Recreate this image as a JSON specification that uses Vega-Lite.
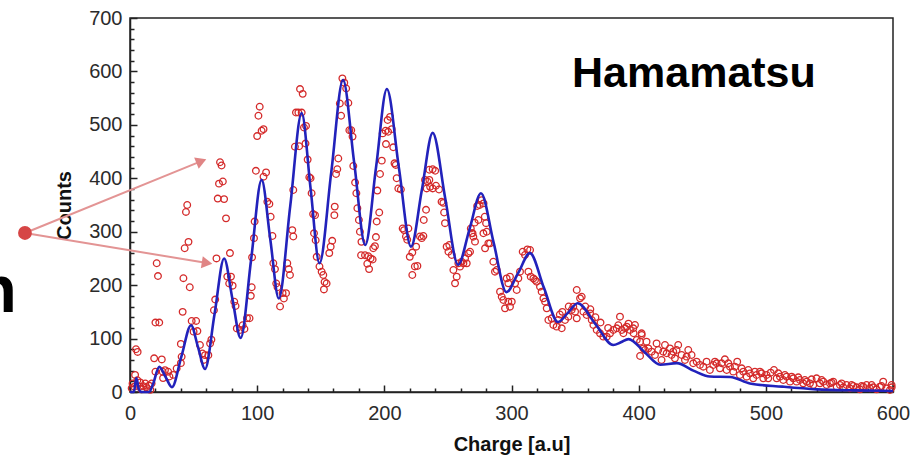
{
"$schema": "https://vega.github.io/schema/vega-lite/v6.json",
"width": 763, "height": 374,
"autosize": {"type": "none"},
"padding": {"left": 130, "top": 18, "right": 30, "bottom": 67},
"background": "white",
"config": {
  "view": {"stroke": "#222", "strokeWidth": 1.5},
  "font": "Liberation Sans",
  "axis": {"domainColor": "#222", "domainWidth": 1.5, "tickColor": "#222", "tickWidth": 1.5, "labelFont": "Liberation Sans", "labelFontSize": 20, "labelColor": "#2b2b2b", "titleFont": "Liberation Sans", "titleFontSize": 20, "titleFontWeight": "bold", "titleColor": "#111", "grid": false, "labelFlush": false, "labelOverlap": false, "labelBound": false}
},
"resolve": {"axis": {"x": "independent", "y": "independent"}},
"datasets": {
  "pts": [
{"charge":1.3,"counts":7},{"charge":3.4,"counts":10},{"charge":4,"counts":32},{"charge":5.8,"counts":22},{"charge":4.7,"counts":80},{"charge":6,"counts":75},{"charge":7.9,"counts":10},{"charge":10.5,"counts":11},{"charge":13,"counts":9},{"charge":15,"counts":12},{"charge":17,"counts":16},{"charge":2,"counts":16},{"charge":9,"counts":5},{"charge":12,"counts":16},{"charge":8,"counts":18},{"charge":16,"counts":4},
{"charge":19,"counts":63},{"charge":25,"counts":61},{"charge":20,"counts":130},{"charge":23,"counts":130},{"charge":21,"counts":241},{"charge":22,"counts":217},{"charge":20,"counts":38},{"charge":25.7,"counts":38},{"charge":27.5,"counts":41},{"charge":30,"counts":38},{"charge":26,"counts":26},{"charge":31,"counts":29},{"charge":34,"counts":32},{"charge":36.7,"counts":44},{"charge":40,"counts":54},{"charge":40.6,"counts":66},{"charge":40,"counts":90},{"charge":41.4,"counts":150},{"charge":42,"counts":213},{"charge":47,"counts":196},{"charge":43,"counts":269},{"charge":46,"counts":281},{"charge":44,"counts":337},{"charge":45,"counts":350},{"charge":48.5,"counts":133},{"charge":52,"counts":133},{"charge":50,"counts":113},{"charge":53,"counts":114},{"charge":55,"counts":88},{"charge":57,"counts":72},{"charge":59,"counts":69},{"charge":58,"counts":60},{"charge":61.6,"counts":69},{"charge":63,"counts":91},{"charge":64,"counts":98},{"charge":66,"counts":153},{"charge":67,"counts":173},{"charge":68,"counts":250},{"charge":70.8,"counts":430},{"charge":72,"counts":424},{"charge":70,"counts":390},{"charge":73,"counts":394},{"charge":69,"counts":362},{"charge":74,"counts":361},{"charge":75.5,"counts":325},{"charge":78.6,"counts":260},{"charge":76.5,"counts":216},{"charge":79.4,"counts":216},{"charge":78,"counts":203},{"charge":80.7,"counts":199},{"charge":82,"counts":169},{"charge":83,"counts":161},{"charge":84,"counts":119},{"charge":86.5,"counts":116},{"charge":88.6,"counts":125},{"charge":90,"counts":118},{"charge":92,"counts":138},{"charge":94,"counts":138},{"charge":95,"counts":180},{"charge":95.7,"counts":196},{"charge":96,"counts":252},{"charge":98,"counts":319},{"charge":97.5,"counts":288},{"charge":99,"counts":414},{"charge":100,"counts":479},{"charge":101,"counts":517},{"charge":102,"counts":534},{"charge":103.5,"counts":489},{"charge":105,"counts":492},{"charge":105,"counts":403},{"charge":107,"counts":411},{"charge":108,"counts":356},{"charge":109.6,"counts":352},{"charge":110.6,"counts":328},{"charge":112,"counts":292},{"charge":112.7,"counts":241},{"charge":114,"counts":230},{"charge":115,"counts":203},{"charge":116,"counts":196},{"charge":118,"counts":160},{"charge":120,"counts":185},{"charge":121,"counts":175},{"charge":122.7,"counts":185},{"charge":123.7,"counts":241},{"charge":124.8,"counts":230},{"charge":125.8,"counts":219},{"charge":127.6,"counts":303},{"charge":128.4,"counts":291},
{"charge":128.4,"counts":378},{"charge":129.7,"counts":459},{"charge":133,"counts":460},{"charge":130.5,"counts":523},{"charge":132.4,"counts":523},{"charge":135,"counts":523},{"charge":133.7,"counts":567},{"charge":135.8,"counts":558},{"charge":136.8,"counts":495},{"charge":138.4,"counts":498},{"charge":138,"counts":465},{"charge":139.7,"counts":435},{"charge":141,"counts":402},{"charge":142,"counts":400},{"charge":142.8,"counts":372},{"charge":144,"counts":333},{"charge":145.5,"counts":331},{"charge":144.7,"counts":297},{"charge":146,"counts":284},{"charge":146.8,"counts":253},{"charge":149,"counts":235},{"charge":150.7,"counts":225},{"charge":152,"counts":219},{"charge":153,"counts":206},{"charge":154.6,"counts":203},{"charge":152.5,"counts":192},{"charge":156.7,"counts":260},{"charge":157.8,"counts":272},{"charge":159,"counts":283},{"charge":160.7,"counts":331},{"charge":161,"counts":347},{"charge":162,"counts":408},{"charge":163,"counts":417},{"charge":163.8,"counts":437},{"charge":165,"counts":540},{"charge":166,"counts":517},{"charge":167,"counts":587},{"charge":168.5,"counts":579},{"charge":170,"counts":568},{"charge":171.7,"counts":541},{"charge":172.5,"counts":490},{"charge":174,"counts":490},{"charge":175,"counts":478},{"charge":175.6,"counts":423},{"charge":177,"counts":392},{"charge":178,"counts":372},{"charge":178.8,"counts":344},{"charge":180,"counts":322},{"charge":180.8,"counts":300},{"charge":182,"counts":281},{"charge":181.7,"counts":256},{"charge":184.8,"counts":256},{"charge":187.4,"counts":254},{"charge":186.6,"counts":240},{"charge":188,"counts":230},{"charge":189.2,"counts":250},{"charge":190.8,"counts":248},{"charge":191.3,"counts":269},{"charge":192.6,"counts":273},{"charge":193.4,"counts":290},{"charge":194,"counts":319},{"charge":196,"counts":336},{"charge":194.5,"counts":377},{"charge":196.6,"counts":408},{"charge":198,"counts":433},{"charge":198.7,"counts":484},{"charge":201,"counts":489},{"charge":203,"counts":487},{"charge":205.8,"counts":492},{"charge":202.6,"counts":509},{"charge":204.5,"counts":515},{"charge":201.3,"counts":464},{"charge":207,"counts":458},{"charge":208,"counts":428},{"charge":209,"counts":425},{"charge":209.7,"counts":400},{"charge":211,"counts":381},{"charge":213,"counts":379},{"charge":214.4,"counts":306},{"charge":215.5,"counts":303},{"charge":217,"counts":291},{"charge":218,"counts":285},{"charge":218.9,"counts":306},{"charge":220,"counts":253},{"charge":222,"counts":261},{"charge":224,"counts":235},{"charge":226,"counts":236},{"charge":222,"counts":219},{"charge":225,"counts":272},{"charge":228,"counts":291},{"charge":229.4,"counts":288},{"charge":230.7,"counts":292},{"charge":231,"counts":322},{"charge":232.8,"counts":341},{"charge":232,"counts":397},{"charge":233.8,"counts":394},{"charge":235.4,"counts":397},{"charge":235.4,"counts":416},{"charge":238,"counts":417},{"charge":240,"counts":414},{"charge":233.3,"counts":381},{"charge":236,"counts":384},{"charge":238,"counts":381},{"charge":240.6,"counts":386},{"charge":243,"counts":379},{"charge":245,"counts":356},{"charge":246.4,"counts":354},{"charge":247,"counts":336},{"charge":247.7,"counts":316},
{"charge":268,"counts":306},{"charge":269.4,"counts":297},{"charge":271,"counts":317},{"charge":274,"counts":322},{"charge":273,"counts":348},{"charge":275,"counts":350},{"charge":276.5,"counts":359},{"charge":278,"counts":353},{"charge":279,"counts":328},{"charge":280,"counts":316},
{"charge":249,"counts":272},{"charge":250.4,"counts":262.6},{"charge":253,"counts":256.4},{"charge":251.1,"counts":275.1},{"charge":254.3,"counts":228.3},{"charge":255.6,"counts":203.4},{"charge":256.9,"counts":215.9},{"charge":258.2,"counts":240.8},{"charge":259.5,"counts":234.6},{"charge":260.8,"counts":243.9},{"charge":262.2,"counts":240.8},{"charge":263.5,"counts":250.2},{"charge":264.8,"counts":240.8},{"charge":266.1,"counts":259.5},{"charge":267.4,"counts":262.6},{"charge":268.7,"counts":297},{"charge":270,"counts":290.7},{"charge":271.3,"counts":281.4},{"charge":277.9,"counts":297},{"charge":280.5,"counts":300},{"charge":281.8,"counts":278.2},{"charge":283.1,"counts":278.2},{"charge":279.2,"counts":268.9},{"charge":285.7,"counts":243.9},{"charge":287,"counts":225.2},{"charge":288.4,"counts":228.3},{"charge":291,"counts":187.8},{"charge":292.3,"counts":178.4},{"charge":293.6,"counts":172.2},{"charge":294.9,"counts":156.6},{"charge":297.5,"counts":169.1},{"charge":298.8,"counts":159.7},{"charge":300.2,"counts":169.1},{"charge":296.2,"counts":212.7},{"charge":297.5,"counts":203.4},{"charge":298.8,"counts":215.9},{"charge":302.8,"counts":203.4},{"charge":304.1,"counts":190.9},{"charge":305.4,"counts":212.7},{"charge":306.7,"counts":225.2},{"charge":308.8,"counts":262.6},{"charge":310.6,"counts":256.4},{"charge":312.5,"counts":267},{"charge":314.6,"counts":265.8},{"charge":313.3,"counts":225.2},{"charge":315.1,"counts":215.9},{"charge":317.2,"counts":212.7},{"charge":318.5,"counts":209.6},{"charge":319.8,"counts":206.5},{"charge":322.4,"counts":197.1},{"charge":323.7,"counts":187.8},{"charge":325.1,"counts":175.3},{"charge":326.4,"counts":169.1},{"charge":327.7,"counts":156.6},{"charge":329,"counts":134.8},{"charge":331.6,"counts":137.9},{"charge":332.9,"counts":125.4},{"charge":335.5,"counts":122.3},{"charge":336.9,"counts":134.8},{"charge":339.5,"counts":119.2},{"charge":342.1,"counts":134.8},{"charge":344.7,"counts":141},{"charge":347.3,"counts":153.5},{"charge":348.6,"counts":159.7},{"charge":350,"counts":150.4},{"charge":351.3,"counts":137.9},{"charge":351.3,"counts":190.9},{"charge":353.9,"counts":175.3},{"charge":355.2,"counts":178.4},{"charge":356.5,"counts":150.4},{"charge":359.1,"counts":144.1},{"charge":361.8,"counts":147.2},{"charge":363.1,"counts":134.8},{"charge":364.4,"counts":125.4},{"charge":367,"counts":116},{"charge":369.6,"counts":109.8},{"charge":372.2,"counts":103.6},{"charge":374.9,"counts":103.6},{"charge":377.5,"counts":109.8},{"charge":380.1,"counts":116},{"charge":382.7,"counts":119.2},{"charge":385.3,"counts":141},{"charge":386.7,"counts":116},{"charge":389.3,"counts":119.2},{"charge":390.6,"counts":122.3},{"charge":393.2,"counts":116},{"charge":395.8,"counts":119.2},{"charge":397.1,"counts":125.4},{"charge":398.5,"counts":97.3},
{"charge":340,"counts":150},{"charge":345,"counts":160},{"charge":338,"counts":145},{"charge":358,"counts":160},{"charge":362,"counts":155},{"charge":366,"counts":140},{"charge":370,"counts":130},{"charge":376,"counts":120},{"charge":384,"counts":125},{"charge":388,"counts":110},{"charge":392,"counts":128},{"charge":396,"counts":110},
{"charge":401.1,"counts":94.2},{"charge":402.4,"counts":106.7},{"charge":403.7,"counts":81.7},{"charge":401.1,"counts":67.4},{"charge":402.3,"counts":109.8},{"charge":404.9,"counts":78.6},{"charge":407.6,"counts":81.7},{"charge":410.2,"counts":75.5},{"charge":412.8,"counts":69.3},{"charge":415.4,"counts":78.6},{"charge":418,"counts":59.9},{"charge":420.7,"counts":88},{"charge":422,"counts":72.4},{"charge":424.6,"counts":81.7},{"charge":427.2,"counts":75.5},{"charge":428.5,"counts":63},{"charge":431.1,"counts":88},{"charge":433.8,"counts":69.3},{"charge":436.4,"counts":59.9},{"charge":439,"counts":78.6},{"charge":441.6,"counts":69.3},{"charge":442.9,"counts":53.7},{"charge":445.6,"counts":56.8},{"charge":448.2,"counts":50.6},{"charge":450.8,"counts":47.4},{"charge":453.4,"counts":56.8},{"charge":456,"counts":41.2},{"charge":458.7,"counts":50.6},{"charge":461.3,"counts":53.7},{"charge":463.9,"counts":44.3},{"charge":467.8,"counts":61.2},{"charge":469.2,"counts":41.2},{"charge":471.8,"counts":47.4},{"charge":474.4,"counts":38.1},{"charge":477.5,"counts":56.8},{"charge":479.6,"counts":31.8},{"charge":482.3,"counts":38.1},{"charge":484.9,"counts":28.7},{"charge":487.5,"counts":34.9},{"charge":490.1,"counts":25.6},{"charge":492.7,"counts":31.8},{"charge":495.4,"counts":38.1},{"charge":498,"counts":25.6},{"charge":500.6,"counts":31.8},{"charge":503.8,"counts":36.2},{"charge":506.4,"counts":41.2},{"charge":508.5,"counts":25.6},{"charge":511.1,"counts":28.7},{"charge":513.7,"counts":22.5},{"charge":516.3,"counts":28.7},{"charge":519,"counts":19.4},{"charge":521.6,"counts":25.6},{"charge":524.2,"counts":19.4},{"charge":526.8,"counts":22.5},{"charge":529.4,"counts":16.2},{"charge":532.1,"counts":19.4},{"charge":534.7,"counts":16.2},{"charge":537.3,"counts":13.1},{"charge":539.9,"counts":25.6},{"charge":542.5,"counts":16.2},{"charge":545.2,"counts":19.4},{"charge":547.8,"counts":13.1},{"charge":550.4,"counts":16.2},{"charge":553,"counts":19.4},{"charge":555.7,"counts":10},{"charge":558.3,"counts":13.1},{"charge":560.9,"counts":8.8},{"charge":563.5,"counts":13.1},{"charge":566.1,"counts":6.9},{"charge":568.8,"counts":11.2},{"charge":571.4,"counts":8.8},{"charge":574,"counts":5},{"charge":576.6,"counts":10},{"charge":579.2,"counts":13.1},{"charge":581.9,"counts":6.9},{"charge":584.5,"counts":8.8},{"charge":587.1,"counts":5},{"charge":589.7,"counts":10},{"charge":592.3,"counts":19.4},{"charge":595,"counts":6.9},{"charge":597.6,"counts":3.8},{"charge":599,"counts":8.8},
{"charge":406.2,"counts":94.2},{"charge":414.1,"counts":91},{"charge":419.3,"counts":75.5},{"charge":425.9,"counts":69.3},{"charge":429.8,"counts":78.6},{"charge":437.7,"counts":66.2},{"charge":460,"counts":56.8},{"charge":465.2,"counts":53.7},{"charge":470.5,"counts":53.7},{"charge":475.7,"counts":47.4},{"charge":481,"counts":44.3},{"charge":486.2,"counts":41.2},{"charge":491.4,"counts":38.1},{"charge":496.7,"counts":35},{"charge":501.9,"counts":25.6},{"charge":509.8,"counts":35},{"charge":515,"counts":31.8},{"charge":520.3,"counts":28.7},{"charge":525.5,"counts":27.5},{"charge":530.7,"counts":22.5},{"charge":536,"counts":23.7},{"charge":543.9,"counts":22.5},{"charge":551.7,"counts":17.5},{"charge":559.6,"counts":16.2},{"charge":567.4,"counts":13.1},{"charge":575.3,"counts":11.2},{"charge":583.2,"counts":13.1},{"charge":591,"counts":11.2},{"charge":598.9,"counts":13.1}
  ],
  "fit": [
{"charge":0,"fit":0},{"charge":3,"fit":0},{"charge":5,"fit":26},{"charge":7,"fit":5},{"charge":9,"fit":0},{"charge":15,"fit":0},{"charge":18,"fit":14},{"charge":23,"fit":47},{"charge":28,"fit":28},{"charge":33,"fit":9},{"charge":40.5,"fit":67},{"charge":48,"fit":125},{"charge":53.5,"fit":84},{"charge":59,"fit":43},{"charge":66.5,"fit":146},{"charge":74,"fit":250},{"charge":80.5,"fit":175},{"charge":87,"fit":101},{"charge":95.3,"fit":249},{"charge":103.5,"fit":397},{"charge":110.3,"fit":286},{"charge":117,"fit":175},{"charge":126,"fit":348},{"charge":135,"fit":522},{"charge":142,"fit":381},{"charge":149,"fit":241},{"charge":158.3,"fit":412},{"charge":167.5,"fit":584},{"charge":176.3,"fit":429},{"charge":185,"fit":275},{"charge":193.5,"fit":421},{"charge":202,"fit":567},{"charge":211.5,"fit":419},{"charge":221,"fit":272},{"charge":229.5,"fit":378},{"charge":238,"fit":485},{"charge":248,"fit":361},{"charge":258,"fit":238},{"charge":267,"fit":305},{"charge":276,"fit":372},{"charge":286,"fit":279},{"charge":296,"fit":187},{"charge":305.3,"fit":223},{"charge":314.5,"fit":260},{"charge":325.5,"fit":195},{"charge":336.6,"fit":131},{"charge":344.3,"fit":148},{"charge":352,"fit":166},{"charge":366,"fit":127},{"charge":380,"fit":88},{"charge":386,"fit":93},{"charge":392,"fit":99},{"charge":404.5,"fit":75},{"charge":417,"fit":51},{"charge":430,"fit":54},{"charge":443,"fit":40},{"charge":456,"fit":29},{"charge":472,"fit":28},{"charge":487.5,"fit":16},{"charge":513,"fit":10},{"charge":540,"fit":5},{"charge":570,"fit":3},{"charge":600,"fit":2}
  ]
},
"layer": [
  {
    "data": {"name": "pts"},
    "mark": {"type": "point", "shape": "circle", "filled": false, "stroke": "#d42a2a", "strokeWidth": 1.3, "size": 44, "opacity": 1},
    "encoding": {
      "x": {"field": "charge", "type": "quantitative",
        "scale": {"domain": [0, 600], "nice": false, "zero": false},
        "axis": {"title": "Charge [a.u]", "values": [0,20,40,60,80,100,120,140,160,180,200,220,240,260,280,300,320,340,360,380,400,420,440,460,480,500,520,540,560,580,600],
          "labelExpr": "datum.value % 100 === 0 ? datum.label : ''",
          "tickSize": {"condition": {"test": "datum.value % 100 === 0", "value": -7}, "value": -4},
          "labelPadding": 18, "titlePadding": 8}},
      "y": {"field": "counts", "type": "quantitative",
        "scale": {"domain": [0, 700], "nice": false, "zero": true},
        "axis": {"title": "Counts", "values": [0,20,40,60,80,100,120,140,160,180,200,220,240,260,280,300,320,340,360,380,400,420,440,460,480,500,520,540,560,580,600,620,640,660,680,700],
          "labelExpr": "datum.value % 100 === 0 ? datum.label : ''",
          "tickSize": {"condition": {"test": "datum.value % 100 === 0", "value": -7}, "value": -4},
          "labelPadding": 15, "titlePadding": 14}}
    }
  },
  {
    "data": {"name": "fit"},
    "mark": {"type": "line", "color": "#2222bb", "strokeWidth": 2.6, "interpolate": "monotone"},
    "encoding": {
      "x": {"field": "charge", "type": "quantitative", "axis": null},
      "y": {"field": "fit", "type": "quantitative", "axis": null}
    }
  },
  {
    "data": {"values": [{}]},
    "mark": {"type": "text", "text": "Hamamatsu", "font": "Liberation Sans", "fontSize": 43, "fontWeight": "bold", "align": "left", "baseline": "alphabetic", "color": "#000"},
    "encoding": {"x": {"datum": 347.6, "type": "quantitative", "axis": null}, "y": {"datum": 571, "type": "quantitative", "axis": null}}
  },
  {
    "data": {"values": [{}]},
    "mark": {"type": "text", "text": "n", "font": "Liberation Sans", "fontSize": 66, "fontWeight": "bold", "align": "right", "baseline": "alphabetic", "color": "#000"},
    "encoding": {"x": {"datum": -89, "type": "quantitative", "axis": null}, "y": {"datum": 150, "type": "quantitative", "axis": null}}
  },
  {
    "data": {"values": [{}]},
    "mark": {"type": "rule", "color": "#e39494", "strokeWidth": 2},
    "encoding": {"x": {"datum": -82.6, "type": "quantitative", "axis": null}, "y": {"datum": 297.6, "type": "quantitative", "axis": null}, "x2": {"datum": 56.1}, "y2": {"datum": 432}}
  },
  {
    "data": {"values": [{}]},
    "mark": {"type": "rule", "color": "#e39494", "strokeWidth": 2},
    "encoding": {"x": {"datum": -82.6, "type": "quantitative", "axis": null}, "y": {"datum": 297.6, "type": "quantitative", "axis": null}, "x2": {"datum": 60.6}, "y2": {"datum": 241.4}}
  },
  {
    "data": {"values": [{}]},
    "mark": {"type": "point", "shape": "triangle-right", "filled": true, "color": "#e08585", "size": 150, "angle": 338, "opacity": 1},
    "encoding": {"x": {"datum": 56.1, "type": "quantitative", "axis": null}, "y": {"datum": 432, "type": "quantitative", "axis": null}}
  },
  {
    "data": {"values": [{}]},
    "mark": {"type": "point", "shape": "triangle-right", "filled": true, "color": "#e08585", "size": 150, "angle": 9, "opacity": 1},
    "encoding": {"x": {"datum": 60.6, "type": "quantitative", "axis": null}, "y": {"datum": 241.4, "type": "quantitative", "axis": null}}
  },
  {
    "data": {"values": [{}]},
    "mark": {"type": "point", "shape": "circle", "filled": true, "color": "#d64545", "size": 190, "opacity": 1},
    "encoding": {"x": {"datum": -82.6, "type": "quantitative", "axis": null}, "y": {"datum": 297.6, "type": "quantitative", "axis": null}}
  }
]
}
